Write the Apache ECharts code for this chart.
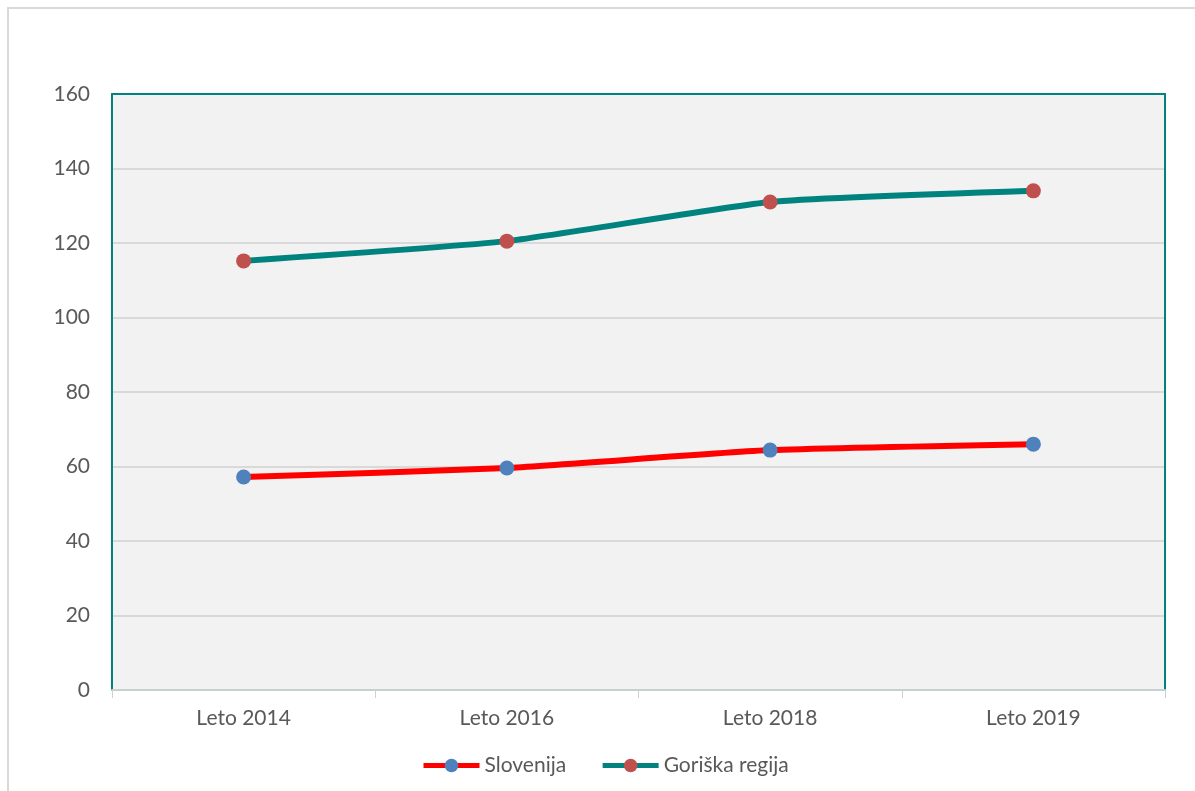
<!DOCTYPE html>
<html>
<head>
<meta charset="utf-8">
<script src="https://cdn.jsdelivr.net/npm/echarts@6/dist/echarts.min.js"></script>
<style>
html,body{margin:0;padding:0;background:#fff;}
#main{width:1195px;height:791px;}
</style>
</head>
<body>
<div id="main"></div>
<script>
//podatki
var years = ['Leto 2014', 'Leto 2016', 'Leto 2018', 'Leto 2019'];
var slovenija = [57.2, 59.6, 64.4, 66.0];
var goriska = [115.2, 120.5, 131.0, 134.0];
var yTicks = [0, 20, 40, 60, 80, 100, 120, 140, 160];

var font = 'Lato, "Open Sans", sans-serif';
var teal = '#00827F';
var chartDom = document.getElementById('main');
var myChart = echarts.init(chartDom);

var option = {
    animation: false,
    backgroundColor: '#fff',
    graphic: [{
        type: 'rect',
        shape: {x: 8, y: 8, width: 1200, height: 800},
        style: {fill: 'none', stroke: '#D9D9D9', lineWidth: 2},
        z: -1
    }],
    grid: {
        show: true,
        left: 112,
        right: 30,
        top: 94,
        bottom: 101,
        backgroundColor: '#F2F2F2',
        borderWidth: 0
    },
    legend: {
        left: 416,
        top: 750,
        itemWidth: 56,
        itemHeight: 17,
        itemGap: 34,
        lineStyle: {width: 5},
        textStyle: {fontFamily: font, fontSize: 21, color: '#595959'},
        data: ['Slovenija', 'Goriška regija']
    },
    xAxis: [{
        type: 'category',
        data: years,
        boundaryGap: true,
        axisLine: {lineStyle: {color: '#C5D0D0', width: 2}},
        axisTick: {show: true, length: 8, lineStyle: {color: '#D0D0D0', width: 1}},
        axisLabel: {fontFamily: font, fontSize: 21, color: '#595959', margin: 18}
    }, {
        // gornji rob
        type: 'category',
        position: 'top',
        data: years,
        axisLine: {onZero: false, lineStyle: {color: teal, width: 2}},
        axisTick: {show: false},
        axisLabel: {show: false}
    }],
    yAxis: [{
        type: 'value',
        min: yTicks[0],
        max: yTicks[yTicks.length - 1],
        interval: 20,
        axisLine: {show: true, onZero: false, lineStyle: {color: teal, width: 2}},
        axisTick: {show: false},
        splitLine: {lineStyle: {color: '#D9D9D9', width: 2}},
        axisLabel: {fontFamily: font, fontSize: 21, color: '#595959', margin: 22}
    }, {
        // desni rob
        type: 'value',
        position: 'right',
        min: yTicks[0],
        max: yTicks[yTicks.length - 1],
        interval: 20,
        axisLine: {show: true, onZero: false, lineStyle: {color: teal, width: 2}},
        axisTick: {show: false},
        splitLine: {show: false},
        axisLabel: {show: false}
    }],
    series: [
        {
            name: 'Slovenija',
            type: 'line',
            data: slovenija,
            smooth: 0.15,
            symbol: 'circle',
            symbolSize: 15,
            lineStyle: {color: '#FF0000', width: 6},
            itemStyle: {color: '#4F81BD'},
            z: 3
        },
        {
            name: 'Goriška regija',
            type: 'line',
            data: goriska,
            smooth: 0.15,
            symbol: 'circle',
            symbolSize: 15,
            lineStyle: {color: teal, width: 6},
            itemStyle: {color: '#C0504D'},
            z: 3
        }
    ]
};
myChart.setOption(option);
</script>
</body>
</html>
